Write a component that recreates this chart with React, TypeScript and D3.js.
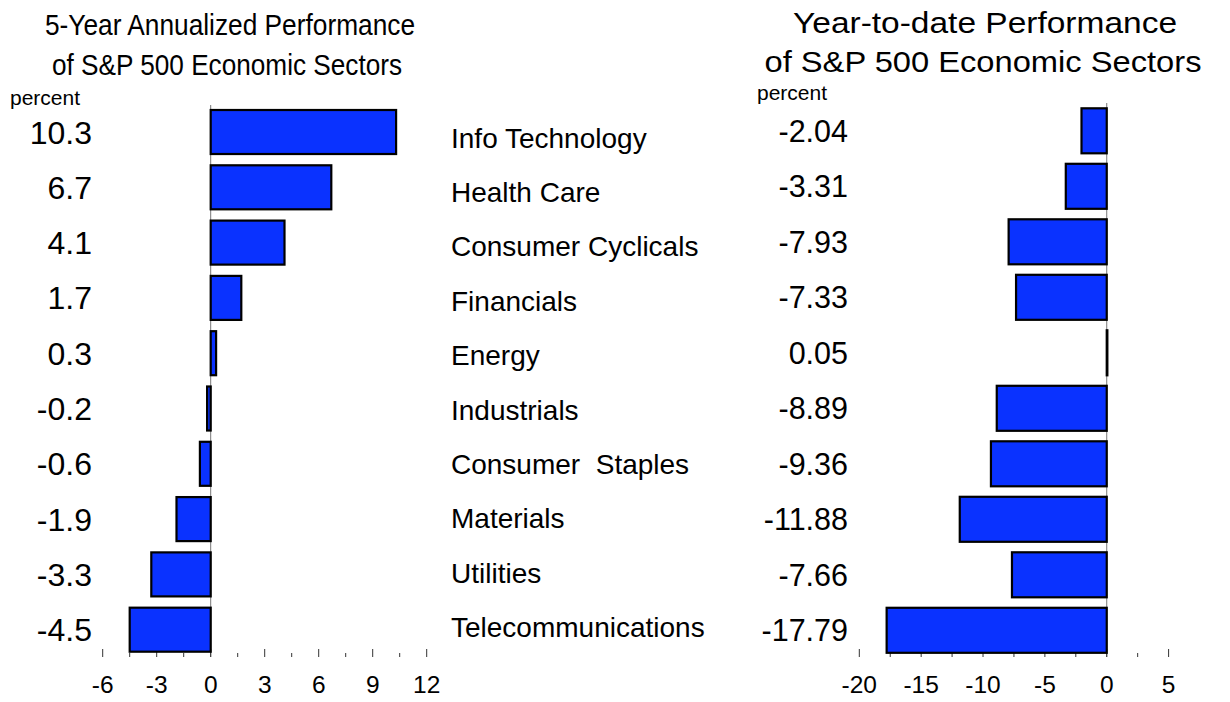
import React from "react";
import * as d3 from "d3";

const sectors = [
  "Info Technology",
  "Health Care",
  "Consumer Cyclicals",
  "Financials",
  "Energy",
  "Industrials",
  "Consumer  Staples",
  "Materials",
  "Utilities",
  "Telecommunications",
];
const fiveYear = [10.3, 6.7, 4.1, 1.7, 0.3, -0.2, -0.6, -1.9, -3.3, -4.5];
const fiveYearLabels = ["10.3", "6.7", "4.1", "1.7", "0.3", "-0.2", "-0.6", "-1.9", "-3.3", "-4.5"];
const ytd = [-2.04, -3.31, -7.93, -7.33, 0.05, -8.89, -9.36, -11.88, -7.66, -17.79];
const ytdLabels = ["-2.04", "-3.31", "-7.93", "-7.33", "0.05", "-8.89", "-9.36", "-11.88", "-7.66", "-17.79"];
const leftMajorTicks = [-6, -3, 0, 3, 6, 9, 12];
const leftMinorTicks = [-4.5, -1.5, 1.5, 4.5, 7.5, 10.5];
const rightMajorTicks = [-20, -15, -10, -5, 0, 5];
const rightMinorTicks = [-17.5, -12.5, -7.5, -2.5, 2.5];

const FONT = "'Liberation Sans', Arial, Helvetica, sans-serif";
const BLUE = "#0A32FF";

export default function App() {
  const xL = d3.scaleLinear().domain([-6, 12]).range([102.7, 426.7]);
  const yL = d3.scaleBand<string>().domain(sectors).range([110, 651.7]).paddingInner(0.204).paddingOuter(0);
  const xR = d3.scaleLinear().domain([-20, 5]).range([859.3, 1168.6]);
  const yR = d3.scaleBand<string>().domain(sectors).range([108.3, 652.8]).paddingInner(0.189).paddingOuter(0);
  const yCat = d3.scalePoint<string>().domain(sectors).range([137.5, 627]);

  return (
    <svg
      width={1230}
      height={702}
      style={{ position: "absolute", left: 0, top: 0, background: "#fff" }}
      fontFamily={FONT}
    >
      {/* Titles */}
      <g fill="#000">
        <text x={230} y={35} fontSize={30} textAnchor="middle" textLength={370} lengthAdjust="spacingAndGlyphs">
          5-Year Annualized Performance
        </text>
        <text x={227} y={75} fontSize={30} textAnchor="middle" textLength={350} lengthAdjust="spacingAndGlyphs">
          of S&amp;P 500 Economic Sectors
        </text>
        <text x={985} y={33} fontSize={30} textAnchor="middle" textLength={384} lengthAdjust="spacingAndGlyphs">
          Year-to-date Performance
        </text>
        <text x={983} y={72} fontSize={30} textAnchor="middle" textLength={437} lengthAdjust="spacingAndGlyphs">
          of S&amp;P 500 Economic Sectors
        </text>
        <text x={10} y={105} fontSize={21}>percent</text>
        <text x={757} y={100} fontSize={21}>percent</text>
      </g>

      {/* Zero lines */}
      <line x1={xL(0)} x2={xL(0)} y1={105} y2={657} stroke="#777" strokeWidth={1} />
      <line x1={xR(0)} x2={xR(0)} y1={103} y2={657} stroke="#777" strokeWidth={1} />

      {/* Ticks */}
      <g stroke="#333" strokeWidth={1}>
        {leftMajorTicks.map((t) => (
          <line key={"lM" + t} x1={xL(t)} x2={xL(t)} y1={649} y2={657} />
        ))}
        {leftMinorTicks.map((t) => (
          <line key={"lm" + t} x1={xL(t)} x2={xL(t)} y1={653} y2={657} />
        ))}
        {rightMajorTicks.map((t) => (
          <line key={"rM" + t} x1={xR(t)} x2={xR(t)} y1={649} y2={657} />
        ))}
        {rightMinorTicks.map((t) => (
          <line key={"rm" + t} x1={xR(t)} x2={xR(t)} y1={653} y2={657} />
        ))}
      </g>
      <g fontSize={24.5} textAnchor="middle" fill="#000">
        {leftMajorTicks.map((t) => (
          <text key={"lt" + t} x={xL(t)} y={693}>{String(t)}</text>
        ))}
        {rightMajorTicks.map((t) => (
          <text key={"rt" + t} x={xR(t)} y={693}>{String(t)}</text>
        ))}
      </g>

      {/* Bars */}
      <g fill={BLUE} stroke="#000" strokeWidth={2.2}>
        {sectors.map((s, i) => (
          <rect
            key={"lb" + s}
            x={Math.min(xL(0), xL(fiveYear[i]))}
            y={yL(s)}
            width={Math.abs(xL(fiveYear[i]) - xL(0))}
            height={yL.bandwidth()}
          />
        ))}
        {sectors.map((s, i) => (
          <rect
            key={"rb" + s}
            x={Math.min(xR(0), xR(ytd[i]))}
            y={yR(s)}
            width={Math.abs(xR(ytd[i]) - xR(0))}
            height={yR.bandwidth()}
          />
        ))}
      </g>

      {/* Value and category labels */}
      <g fill="#000">
        {sectors.map((s, i) => (
          <text key={"lv" + s} x={92} y={(yL(s) as number) + yL.bandwidth() / 2} dy="0.36em" fontSize={32} textAnchor="end">
            {fiveYearLabels[i]}
          </text>
        ))}
        {sectors.map((s, i) => (
          <text key={"rv" + s} x={848} y={(yR(s) as number) + yR.bandwidth() / 2} dy="0.36em" fontSize={30.5} textAnchor="end">
            {ytdLabels[i]}
          </text>
        ))}
        {sectors.map((s) => (
          <text key={"c" + s} x={451} y={yCat(s)} dy="0.36em" fontSize={28} style={{ whiteSpace: "pre" }}>
            {s}
          </text>
        ))}
      </g>
    </svg>
  );
}
